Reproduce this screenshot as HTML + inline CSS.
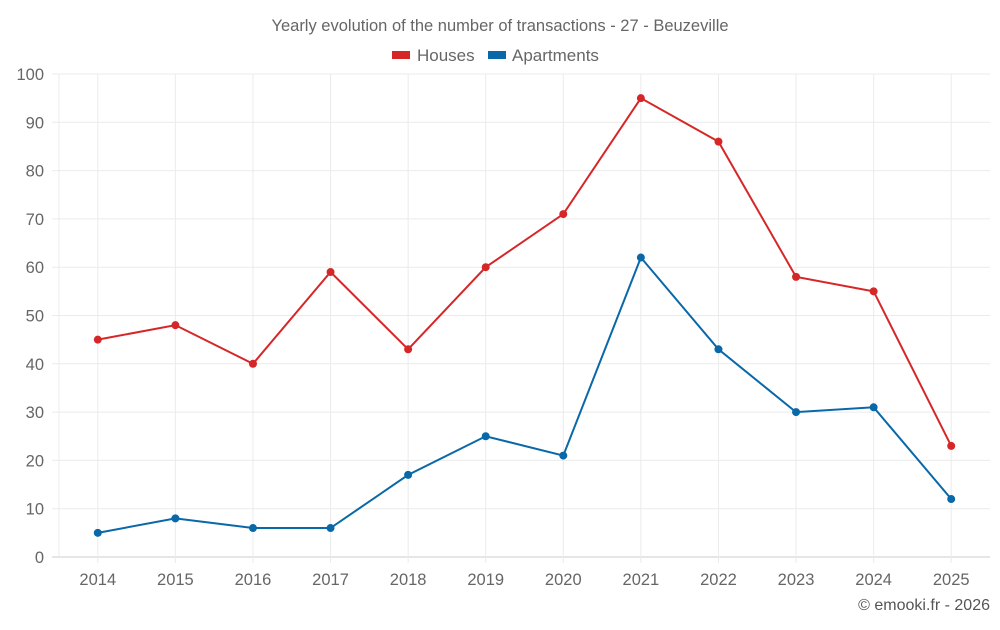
<!DOCTYPE html>
<html><head><meta charset="utf-8"><style>
body{margin:0;background:#fff;font-family:"Liberation Sans",sans-serif}
</style></head><body>
<svg id="c" width="1000" height="625" xmlns="http://www.w3.org/2000/svg">
<text x="500" y="31" text-anchor="middle" font-size="16.5" fill="#666">Yearly evolution of the number of transactions - 27 - Beuzeville</text>
<g>
<g><rect x="392" y="51" width="18" height="8" fill="#d62728"/><text x="417" y="61" font-size="17" fill="#666">Houses</text></g>
<g><rect x="488" y="51" width="18" height="8" fill="#0868a8"/><text x="512" y="61" font-size="17" fill="#666">Apartments</text></g>
</g>
<g id="grid"></g><g id="axes"></g><g id="series"></g>
<text x="990" y="610" text-anchor="end" font-size="16" fill="#555">© emooki.fr - 2026</text>
</svg>
<script>
const years=["2014","2015","2016","2017","2018","2019","2020","2021","2022","2023","2024","2025"];
const houses=[45,48,40,59,43,60,71,95,86,58,55,23];
const apartments=[5,8,6,6,17,25,21,62,43,30,31,12];
const yTicks=[0,10,20,30,40,50,60,70,80,90,100];
const NS="http://www.w3.org/2000/svg";
const L=59,R=990,T=74,B=557;
const bw=(R-L)/years.length;
const x=i=>L+bw*(i+0.5);
const y=v=>B-(v/100)*(B-T);
function mk(t,a,p){const e=document.createElementNS(NS,t);for(const k in a)e.setAttribute(k,a[k]);p.appendChild(e);return e;}
const grid=document.getElementById('grid'),axes=document.getElementById('axes'),ser=document.getElementById('series');
yTicks.forEach(v=>{
 const l=mk('line',{x1:52,x2:R,y1:y(v),y2:y(v),stroke:v===0?'#ccc':'#ebebeb'},grid);
 
 
 const t=mk('text',{x:44,y:y(v)+6,'text-anchor':'end','font-size':16.5,fill:'#666'},axes);
 t.textContent=v;
 
 
});
mk('line',{x1:L,x2:L,y1:T,y2:B,stroke:'#ebebeb'},grid);
years.forEach((yr,i)=>{
 const l=mk('line',{x1:x(i),x2:x(i),y1:T,y2:B+6,stroke:'#ebebeb'},grid);
 
 
 const t=mk('text',{x:x(i),y:585,'text-anchor':'middle','font-size':16.5,fill:'#666'},axes);
 t.textContent=yr;
 
 
});
function series(data,color,name){
 const p=mk('polyline',{points:data.map((v,i)=>x(i)+','+y(v)).join(' '),fill:'none',stroke:color,'stroke-width':2},ser);
 
 
 data.forEach((v,i)=>{
  const c=mk('circle',{cx:x(i),cy:y(v),r:4,fill:color},ser);
  
  
 });
}
series(houses,'#d62728','houses');
series(apartments,'#0868a8','apartments');
</script>
</body></html>
